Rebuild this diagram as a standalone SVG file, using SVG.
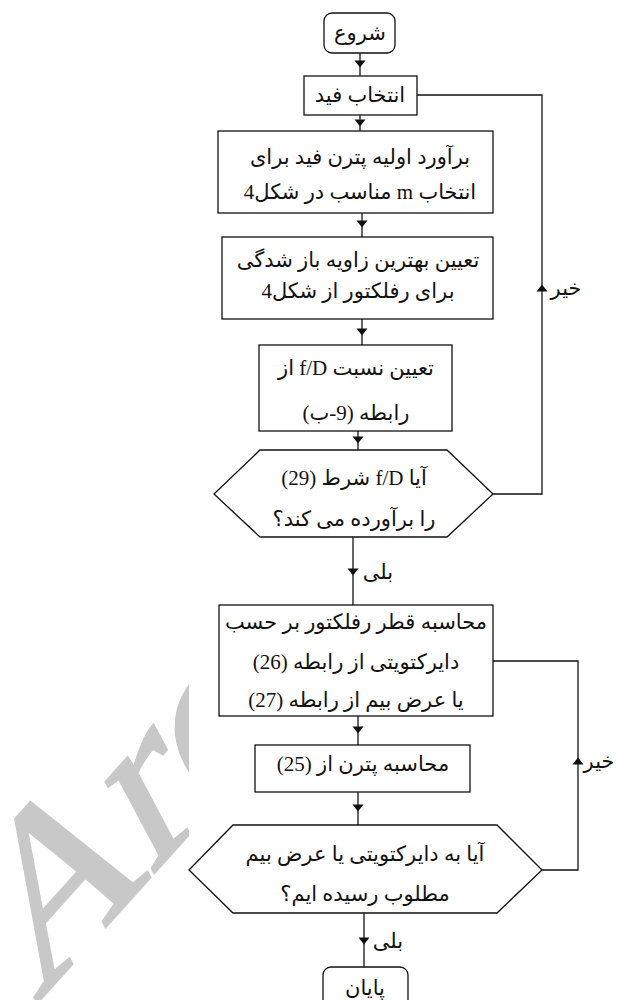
<svg xmlns="http://www.w3.org/2000/svg" width="618" height="1000" viewBox="0 0 618 1000">
<style>
.box{fill:#fff;stroke:#111;stroke-width:1.3}
.ln{fill:none;stroke:#111;stroke-width:1.3}
.ah{fill:#111}
.t{font-family:'Liberation Serif','DejaVu Sans',serif;font-size:21px;fill:#111;text-anchor:middle;direction:rtl}
.wm{font-family:'Liberation Serif',serif;font-size:224px;fill:#c8c8c8;stroke:#c8c8c8;stroke-width:3}
</style>
<defs>
<path id="ad" d="M-5.5,-3.5 L5.5,-3.5 L0,3.5 Z"/>
<path id="au" d="M-5.5,3.5 L5.5,3.5 L0,-3.5 Z"/>
<clipPath id="wmclip"><rect x="0" y="0" width="189" height="1000"/></clipPath>
</defs>
<rect width="618" height="1000" fill="#fff"/>
<g id="watermark" clip-path="url(#wmclip)">
<text class="wm" transform="translate(36,1004) rotate(-28) skewY(-20)">Arc</text>
</g>
<g id="connectors">
<path class="ln" d="M360,53 V76"/>
<use href="#ad" class="ah" x="360" y="64"/>
<path class="ln" d="M360,115 V131"/>
<use href="#ad" class="ah" x="360" y="123"/>
<path class="ln" d="M362,213 V237"/>
<use href="#ad" class="ah" x="362" y="224"/>
<path class="ln" d="M362,319 V345"/>
<use href="#ad" class="ah" x="362" y="332"/>
<path class="ln" d="M358,431 V450"/>
<use href="#ad" class="ah" x="358" y="440"/>
<path class="ln" d="M353,537 V605"/>
<use href="#ad" class="ah" x="353" y="572"/>
<text class="t" x="378" y="579">بلی</text>
<path class="ln" d="M358,716 V745"/>
<use href="#ad" class="ah" x="358" y="730"/>
<path class="ln" d="M358,792 V825"/>
<use href="#ad" class="ah" x="358" y="808"/>
<path class="ln" d="M364,913 V967"/>
<use href="#ad" class="ah" x="364" y="941"/>
<text class="t" x="388" y="948">بلی</text>
<path class="ln" d="M493,494 H542 V95 H417"/>
<use href="#au" class="ah" x="542" y="288"/>
<text class="t" x="566" y="295">خیر</text>
<path class="ln" d="M542,870 H578 V661 H493"/>
<use href="#au" class="ah" x="578" y="761"/>
<text class="t" x="599" y="768">خیر</text>
</g>
<g id="start">
<rect class="box" x="324" y="13" width="71" height="40" rx="8"/>
<text class="t" x="360" y="40">شروع</text>
</g>
<g id="select-feed">
<rect class="box" x="304" y="76" width="113" height="39"/>
<text class="t" x="360" y="102">انتخاب فید</text>
</g>
<g id="estimate-pattern">
<rect class="box" x="218" y="131" width="275" height="82"/>
<text class="t" x="360" y="164">برآورد اولیه پترن فید برای</text>
<text class="t" x="360" y="199">انتخاب m مناسب در شکل4</text>
</g>
<g id="best-angle">
<rect class="box" x="222" y="237" width="271" height="82"/>
<text class="t" x="358" y="267">تعیین بهترین زاویه باز شدگی</text>
<text class="t" x="358" y="298">برای رفلکتور از شکل4</text>
</g>
<g id="fd-ratio">
<rect class="box" x="259" y="345" width="193" height="86"/>
<text class="t" x="356" y="375">تعیین نسبت f/D از</text>
<text class="t" x="356" y="420">رابطه (9-ب)</text>
</g>
<g id="decision-1">
<polygon class="box" points="214,494 260,450 447,450 493,494 447,537 260,537"/>
<text class="t" x="354" y="485">آیا f/D شرط (29)</text>
<text class="t" x="354" y="526">را برآورده می کند؟</text>
</g>
<g id="reflector-diameter">
<rect class="box" x="219" y="605" width="274" height="111"/>
<text class="t" x="356" y="629">محاسبه قطر رفلکتور بر حسب</text>
<text class="t" x="356" y="669">دایرکتویتی از رابطه (26)</text>
<text class="t" x="356" y="707">یا عرض بیم از رابطه (27)</text>
</g>
<g id="compute-pattern">
<rect class="box" x="255" y="745" width="215" height="47"/>
<text class="t" x="363" y="771">محاسبه پترن از (25)</text>
</g>
<g id="decision-2">
<polygon class="box" points="189,870 233,825 497,825 542,870 497,913 233,913"/>
<text class="t" x="365" y="861">آیا به دایرکتویتی یا عرض بیم</text>
<text class="t" x="365" y="901">مطلوب رسیده ایم؟</text>
</g>
<g id="end">
<rect class="box" x="323" y="967" width="85" height="42" rx="8"/>
<text class="t" x="365" y="995">پایان</text>
</g>
</svg>
